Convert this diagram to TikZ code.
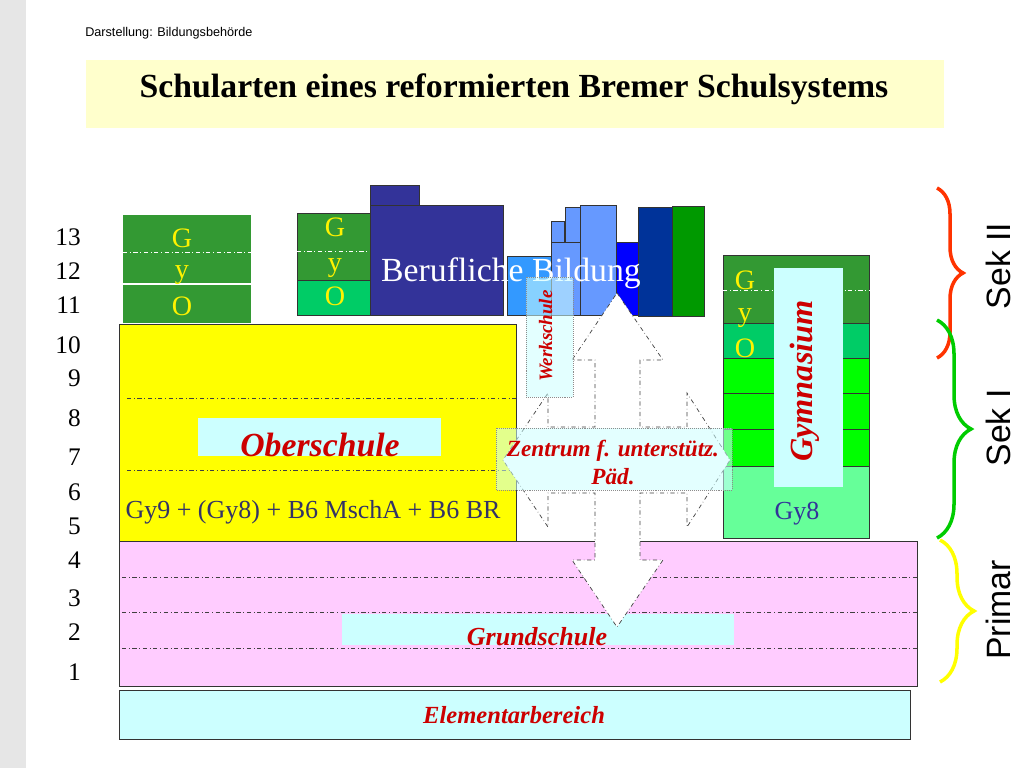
\documentclass[tikz,border=0pt]{standalone}
\usepackage{fontspec}
\setmainfont{Liberation Serif}
\setsansfont{Liberation Sans}
\usetikzlibrary{decorations.pathreplacing}

\definecolor{stripgrey}{HTML}{E6E6E6}
\definecolor{titlebg}{HTML}{FFFFCC}
\definecolor{gyodark}{HTML}{339933}
\definecolor{gyomid}{HTML}{00CC66}
\definecolor{gymbright}{HTML}{00FF00}
\definecolor{gympale}{HTML}{66FF99}
\definecolor{oberyellow}{HTML}{FFFF00}
\definecolor{grundpink}{HTML}{FFCCFF}
\definecolor{labelcyan}{HTML}{CCFFFF}
\definecolor{lblred}{HTML}{CC0000}
\definecolor{berufblue}{HTML}{333399}
\definecolor{barA}{HTML}{3399FF}
\definecolor{barB}{HTML}{6699FF}
\definecolor{barE}{HTML}{0000FF}
\definecolor{barF}{HTML}{003399}
\definecolor{barG}{HTML}{009900}
\definecolor{sekred}{HTML}{FF3300}
\definecolor{sekgreen}{HTML}{00CC00}
\definecolor{sekyellow}{HTML}{FFFF00}
\definecolor{slate}{HTML}{333366}

\begin{document}
\begin{tikzpicture}[x=0.025cm, y=-0.025cm,
    blk/.style={draw=black!80, line width=0.6pt},
    rowline/.style={draw=black!75, dash dot, line width=0.5pt},
    wline/.style={draw=white, dash dot, line width=0.6pt},
    glass/.style={fill=labelcyan, fill opacity=0.55, draw=black!45, densely dotted, line width=0.4pt},
    lbl/.style={text=lblred, inner sep=0pt, font=\bfseries\itshape},
    grade/.style={anchor=east, inner sep=0pt, font=\fontsize{18}{18}\selectfont},
    gyo/.style={anchor=base, inner sep=0pt, text=yellow, font=\fontsize{20}{20}\selectfont},
    brc/.style={decorate, decoration={brace, amplitude=#1, aspect=0.5}, line width=2.5pt},
    sek/.style={rotate=90, anchor=base, inner sep=0pt, font=\sffamily\fontsize{24}{24}\selectfont}]
    \useasboundingbox (0,0) rectangle (1024,768);
        \fill[stripgrey] (0,0) rectangle (26,768);
        \node[anchor=base west, inner sep=0pt, font=\sffamily\fontsize{9}{9}\selectfont] (source) at (85,37) {Darstellung: Bildungsbehörde};
        \fill[titlebg] (86,60) rectangle (944,128);
        \node[anchor=base, inner sep=0pt, font=\bfseries\fontsize{24}{28}\selectfont] (title) at (514,98) {Schularten eines reformierten Bremer Schulsystems};

        \foreach \g/\y in {13/237, 12/271, 11/305, 10/345, 9/378, 8/418, 7/457, 6/492, 5/526, 4/560, 3/598, 2/632, 1/672}
            \node[grade] (grade\g) at (81,\y) {\g};

        \fill[gyodark] (123,215) rectangle (251,323);
        \draw[wline] (123,252) -- (251,252);
        \draw[white, line width=0.8pt] (123,284) -- (251,284);
        \node[gyo] (gyoaG) at (182,247) {G};
        \node[gyo] (gyoaY) at (182,278) {y};
        \node[gyo] (gyoaO) at (182,315) {O};

        \filldraw[blk, fill=gyodark] (297,213) rectangle (370,280);
        \filldraw[blk, fill=gyomid] (297,280) rectangle (370,315);
        \draw[wline] (297,251) -- (370,251);
        \node[gyo] (gyobG) at (335,236) {G};
        \node[gyo] (gyobY) at (335,271) {y};
        \node[gyo] (gyobO) at (335,305) {O};

        \filldraw[blk, fill=berufblue] (370,185) rectangle (419,205);
        \filldraw[blk, fill=berufblue] (370,205) rectangle (503,315);
        \filldraw[blk, fill=barA] (507,256) rectangle (551,315);
        \filldraw[blk, fill=barB] (551,242) rectangle (580,315);
        \filldraw[blk, fill=barB] (551,221) rectangle (564,242);
        \filldraw[blk, fill=barB] (565,207) rectangle (580,242);
        \filldraw[blk, fill=barB] (580,205) rectangle (616,315);
        \filldraw[blk, fill=barE] (616,242) rectangle (638,315);
        \filldraw[blk, fill=barF] (638,207) rectangle (672,316);
        \filldraw[blk, fill=barG] (672,206) rectangle (704,316);

        \filldraw[blk, fill=oberyellow] (119,324) rectangle (516,541);
        \draw[rowline] (127,398) -- (516,398);
        \draw[rowline] (127,470) -- (516,470);
        \fill[labelcyan] (198,418) rectangle (441,456);
        \node[lbl, anchor=base, font=\bfseries\itshape\fontsize{24}{24}\selectfont] (ober) at (320,456) {Oberschule};
        \node[anchor=base, inner sep=0pt, text=slate, font=\fontsize{18.5}{18.5}\selectfont] (oberpaths) at (313,518) {Gy9 + (Gy8) + B6 MschA + B6 BR};

        \filldraw[blk, fill=gyodark] (723,255) rectangle (869,323);
        \filldraw[blk, fill=gyomid] (723,323) rectangle (869,358);
        \filldraw[blk, fill=gymbright] (723,358) rectangle (869,393);
        \filldraw[blk, fill=gymbright] (723,393) rectangle (869,429);
        \filldraw[blk, fill=gymbright] (723,429) rectangle (869,466);
        \filldraw[blk, fill=gympale] (723,466) rectangle (869,538);
        \draw[wline] (723,290) -- (869,290);
        \node[gyo] (gyocG) at (745,289) {G};
        \node[gyo] (gyocY) at (745,321) {y};
        \node[gyo] (gyocO) at (745,357) {O};
        \fill[labelcyan] (774,268) rectangle (843,487);
        \node[lbl, sek, font=\bfseries\itshape\fontsize{23}{23}\selectfont] (gym) at (812,381) {Gymnasium};
        \node[anchor=base, inner sep=0pt, text=berufblue, font=\fontsize{18.5}{18.5}\selectfont] (gy8) at (797,519) {Gy8};

        \filldraw[blk, fill=grundpink] (119,541) rectangle (917,686);
        \draw[rowline] (122,577) -- (917,577);
        \draw[rowline] (122,612) -- (917,612);
        \draw[rowline] (122,648) -- (917,648);
        \fill[labelcyan] (342,614) rectangle (734,645);
        \node[lbl, anchor=base, font=\bfseries\itshape\fontsize{18.5}{18.5}\selectfont] (grund) at (537,645) {Grundschule};

        \filldraw[blk, fill=labelcyan] (119,690) rectangle (910,739);
        \node[lbl, anchor=base, font=\bfseries\itshape\fontsize{17.5}{17.5}\selectfont] (elem) at (514,723) {Elementarbereich};

        \filldraw[fill=white, draw=black!75, dash dot, line width=0.5pt]
            (617,293) -- (663,360) -- (640,360) -- (640,427) -- (687,427) -- (687,393)
            -- (730,460) -- (687,527) -- (687,493) -- (640,493) -- (640,560) -- (663,560)
            -- (617,627) -- (572,560) -- (595,560) -- (595,493) -- (548,493) -- (548,527)
            -- (503,460) -- (548,393) -- (548,427) -- (595,427) -- (595,360) -- (572,360) -- cycle;

        \node[anchor=base, inner sep=0pt, text=white, font=\fontsize{24}{24}\selectfont] (beruf) at (511,281) {Berufliche Bildung};

        \filldraw[glass] (526,277) rectangle (573,397);
        \node[lbl, sek, font=\bfseries\itshape\fontsize{13.5}{13.5}\selectfont] (werk) at (552,336) {Werkschule};
        \filldraw[glass] (496,428) rectangle (732,490);
        \node[lbl, align=center, anchor=north, font=\bfseries\itshape\fontsize{16.5}{20}\selectfont] (zentrum) at (613,440) {Zentrum f. unterstütz.\\Päd.};

        \draw[brc=0.65cm, sekred] (937,188) -- (937,358);
        \draw[brc=0.85cm, sekgreen] (937,320) -- (937,538);
        \draw[brc=0.85cm, sekyellow] (940,540) -- (940,682);
        \node[sek] (sek2) at (1010,266) {Sek II};
        \node[sek] (sek1) at (1010,428) {Sek I};
        \node[sek] (primar) at (1010,610) {Primar};
\end{tikzpicture}
\end{document}
